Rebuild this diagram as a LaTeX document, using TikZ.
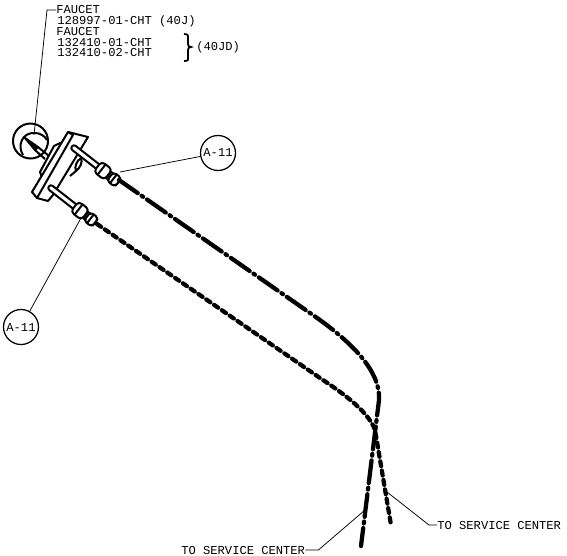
\documentclass[tikz,border=0pt]{standalone}
\usepackage{fontspec}
\setmonofont{Liberation Mono}
\usepackage{tikz}
\usetikzlibrary{calc}
\def\fitting(#1,#2){\begin{scope}[shift={(#1,#2)}, rotate=-38]
	\draw[part, fill=white] (33, 2.7) -- (0, 2.7) arc (90:270:2.7) -- (33, -2.7);
	\draw[part, fill=white] (44, -4) rectangle (56, 4);
	\draw[part, fill=white, rounded corners=2.2] (43.5, -6.5) rectangle (30, 6.5);
	\draw[part, fill=white, rounded corners=2] (56, -5.5) rectangle (46, 5.5);
	\draw[part] (35, -6.5) -- (35, 6.5);
	\draw[part] (50, -5.5) -- (50, 5.5);
	\end{scope}}
\tikzset{
	label/.style={font=\ttfamily\fontsize{6.9}{7}\selectfont, inner sep=0pt, anchor=west},
	callout/.style={draw, circle, line width=0.25mm, minimum size=0.7cm, inner sep=0pt, font=\ttfamily\fontsize{6.9}{7}\selectfont},
	leader/.style={line width=0.15mm},
	part/.style={line width=0.4mm, line join=round},
	hoseline/.style={line width=0.85mm, line join=round, line cap=round},
}
\begin{document}
\begin{tikzpicture}[x=0.02cm, y=-0.02cm]
			%%%%% START %%%%%
			\useasboundingbox (0, 0) rectangle (567, 555);
			
			\node[label] (faucetone) at (56, 10) {FAUCET};
			\node[label] (partone) at (57, 21) {128997-01-CHT (40J)};
			\node[label] (faucettwo) at (56, 31.5) {FAUCET};
			\node[label] (parttwo) at (57, 42) {132410-01-CHT};
			\node[label] (partthree) at (57, 53) {132410-02-CHT};
			\node[label] (model) at (196, 47) {(40JD)};
			\draw[line width=0.35mm] (184, 34) .. controls (189, 34) and (188, 36) .. (188, 40) -- (188, 44) .. controls (188, 46) and (189, 47) .. (191, 47) .. controls (189, 47) and (188, 48) .. (188, 50) -- (188, 56) .. controls (188, 60) and (189, 61) .. (184, 61);
			
			% faucet body
			\draw[part] (30.5, 141) circle (17.5);
			\draw[part] (23, 155) .. controls (17, 146) and (22, 132) .. (35, 133) .. controls (40, 133) and (45, 136) .. (47, 140);
			\draw[part] (38, 147) -- (49, 156);
			\draw[part] (35, 150) -- (45, 159);
			\draw[part, fill=black] (25, 138) -- (38, 147) -- (35, 150) -- cycle;
			\draw[part] (76, 171) .. controls (74, 167) and (77, 160) .. (81, 158) .. controls (83, 162) and (80, 168) .. (76, 171) -- (70, 176);
			\draw[part, fill=white] (40, 172) -- (54, 146) -- (60, 143) -- (66, 150) -- (52, 180) -- (43, 180) -- cycle;
			\draw[part, fill=white] (68, 132) -- (88, 137) -- (53, 195) -- (48, 201) -- (37, 198) -- (32, 192) -- cycle;
			\draw[part] (68, 132) -- (73, 135) -- (37, 198);
			
			% rods and fittings
			\fitting(74, 148)
			\fitting(51, 188)
			
			% hoses
			\draw[hoseline, dash pattern=on 13pt off 2.7pt on 1pt off 2.7pt] (119, 180) -- (310, 313) .. controls (345, 337) and (381, 368) .. (379, 400) -- (361, 546);
			\draw[hoseline, dash pattern=on 2.8pt off 2.6pt] (97, 224) -- (320, 378) .. controls (338, 390) and (368, 410) .. (375, 430) -- (391, 525);
			
			% callouts
			\node[callout] (calloutone) at (218, 153) {A-11};
			\node[callout] (callouttwo) at (21, 327) {A-11};
			\coordinate (fittingone) at (120, 172);
			\coordinate (fittingtwo) at (81, 218);
			\draw[leader] (calloutone) -- (fittingone);
			\draw[leader] (callouttwo) -- (fittingtwo);
			
			% service center labels
			\node[label] (serviceone) at (181, 550) {TO SERVICE CENTER};
			\node[label] (servicetwo) at (437, 525) {TO SERVICE CENTER};
			\coordinate (hoseone) at (365, 510);
			\coordinate (hosetwo) at (387, 492);
			\draw[leader] (serviceone.east) -- ++(13, 0) -- (hoseone);
			\draw[leader] (servicetwo.west) -- ++(-8, 0) -- (hosetwo);
			
			\coordinate (faucetend) at (34, 135);
			\draw[leader] (faucetone.west) -- (47, 10) -- (faucetend);
			
			%%%%% END %%%%%
\end{tikzpicture}
\end{document}
